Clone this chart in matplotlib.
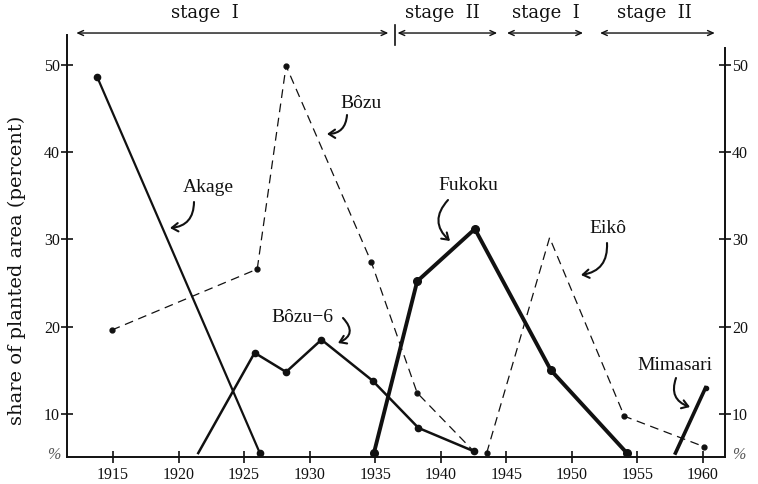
import numpy as np
import matplotlib
matplotlib.use("Agg")
import matplotlib.pyplot as plt

plt.rcParams['font.family'] = ['Liberation Serif', 'DejaVu Serif']

# ---------------- data ----------------
akage_years = [1913.8, 1926.2]
akage = [48.6, 0.0]

bozu_years = [1914.9, 1926.0, 1928.2, 1934.7, 1938.2, 1942.5]
bozu = [19.6, 26.6, 49.9, 27.4, 12.4, 0.5]

bozu6_years = [1921.5, 1925.8, 1928.2, 1930.9, 1934.8, 1938.3, 1942.5]
bozu6 = [0.0, 17.0, 14.8, 18.5, 13.8, 6.4, 0.5]

fukoku_years = [1934.9, 1938.2, 1942.6, 1948.4, 1954.2]
fukoku = [0.0, 25.2, 31.2, 15.0, 0.0]

eiko_years = [1943.5, 1948.3, 1954.0, 1960.1]
eiko = [0.0, 30.2, 9.4, 1.6]

mimasari_years = [1957.9, 1960.2]
mimasari = [0.0, 13.0]

x_ticks = [1915, 1920, 1925, 1930, 1935, 1940, 1945, 1950, 1955, 1960]
x_tick_labels = ['1915', '1920', '1925', '1930', '1935', '1940', '1945', '1950', '1955', '1960']
y_ticks = [0, 10, 20, 30, 40, 50]
y_tick_labels = ['%', '10', '20', '30', '40', '50']

stage_labels = ['stage  I', 'stage  II', 'stage  I', 'stage  II']
stage_starts = [1912.2, 1936.7, 1945.05, 1952.15]
stage_ends = [1936.0, 1944.3, 1950.85, 1960.9]
stage_label_x = [1922.0, 1940.1, 1948.0, 1956.3]
stage_divider = 1936.5

# ---------------- figure ----------------
fig = plt.figure(figsize=(7.58, 4.84), dpi=100)
ax = fig.add_axes([67/758, (484-457)/484, (725-67)/758, (457-35)/484])


def fwd(v):
    v = np.asarray(v, dtype=float)
    return np.where(v < 10, 5.5 + 0.45 * v, v)


def inv(u):
    u = np.asarray(u, dtype=float)
    return np.where(u < 10, (u - 5.5) / 0.45, u)


ax.set_yscale('function', functions=(fwd, inv))
ax.set_xlim(1911.49, 1961.68)
ax.set_ylim(-1.0, 53.44)

ink = '#111111'
ax.plot(akage_years, akage, color=ink, lw=1.6, marker='o', ms=4.5, clip_on=False)
ax.plot(bozu_years, bozu, color=ink, lw=0.9, ls=(0, (7, 4.5)), marker='o', ms=3.5, clip_on=False)
ax.plot(bozu6_years, bozu6, color=ink, lw=1.8, marker='o', ms=4.5, markevery=[1, 2, 3, 4, 5, 6], clip_on=False)
ax.plot(fukoku_years, fukoku, color=ink, lw=2.8, marker='o', ms=5.5, clip_on=False)
ax.plot(eiko_years, eiko, color=ink, lw=0.9, ls=(0, (7, 4.5)), marker='o', ms=3.5, markevery=[0, 2, 3], clip_on=False)
ax.plot(mimasari_years, mimasari, color=ink, lw=2.6, marker='o', ms=3, markevery=[1], clip_on=False)

# axes styling
ax.spines['top'].set_visible(False)
for s in ['left', 'right', 'bottom']:
    ax.spines[s].set_linewidth(1.4)
    ax.spines[s].set_color(ink)
ax.spines['right'].set_bounds(-1.0, 51.95)

ax.set_xticks(x_ticks)
ax.set_xticklabels(x_tick_labels)
ax.set_yticks(y_ticks)
ax.set_yticklabels(y_tick_labels)
ax.minorticks_off()
ax.tick_params(axis='both', direction='inout', length=8, width=1.2, colors=ink,
               labelsize=11.5)
ax.tick_params(axis='y', right=True, labelright=True, pad=1)
ax.tick_params(axis='x', pad=3)
t0 = ax.yaxis.get_major_ticks()[0]
t0.tick1line.set_visible(False)
t0.tick2line.set_visible(False)
for lab in ax.get_yticklabels():
    if lab.get_text() == '%':
        lab.set_color('#555555')
        lab.set_style('italic')

ax.set_ylabel('share of planted area (percent)', fontsize=14, color=ink,
              family=['DejaVu Serif'])
ax.yaxis.set_label_coords((26 - 67) / 658, (457 - 270) / 422)

# stage arrows at the top
for lab, a, b, lx in zip(stage_labels, stage_starts, stage_ends, stage_label_x):
    ax.annotate('', xy=(a, 1.0047), xytext=(b, 1.0047),
                xycoords=('data', 'axes fraction'), textcoords=('data', 'axes fraction'),
                arrowprops=dict(arrowstyle='<->,head_length=0.4,head_width=0.18',
                                lw=1.0, color=ink, shrinkA=0, shrinkB=0),
                annotation_clip=False)
    ax.text(lx, 1.052, lab, transform=ax.get_xaxis_transform(), ha='center', va='center',
            fontsize=13, color=ink, clip_on=False, family=['DejaVu Serif'])
ax.plot([stage_divider, stage_divider], [0.976, 1.024], transform=ax.get_xaxis_transform(),
        color=ink, lw=1.2, clip_on=False)

# series labels with curved arrows (figure pixel positions)
H = 484
labels = [
    ('Akage', (208, 188), (194, 202), (170, 228), -0.45),
    ('Bôzu', (361, 103), (347, 115), (327, 134), -0.45),
    ('Bôzu\u22126', (302, 317), (343, 318), (338, 343), -0.7),
    ('Fukoku', (468, 186), (448, 200), (450, 241), 0.5),
    ('Eikô', (608, 229), (607, 243), (581, 275), -0.45),
    ('Mimasari', (675, 366), (676, 378), (690, 407), 0.5),
]
for txt, tpos, tail, head, rad in labels:
    fig.text(tpos[0] / 758, 1 - tpos[1] / H, txt, ha='center', va='center',
             fontsize=14, color=ink)
    ax.annotate('', xy=(head[0], H - head[1]), xytext=(tail[0], H - tail[1]),
                xycoords='figure pixels', textcoords='figure pixels',
                arrowprops=dict(arrowstyle='->,head_length=0.45,head_width=0.3',
                                connectionstyle=f'arc3,rad={rad}', lw=1.5, color=ink,
                                shrinkA=0, shrinkB=0),
                annotation_clip=False)

fig.savefig('out.png', dpi=100)
